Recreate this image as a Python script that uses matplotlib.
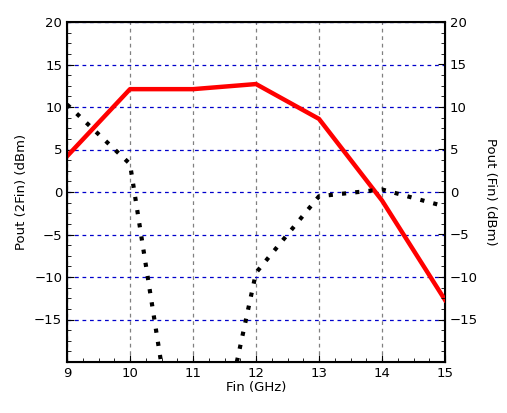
import numpy as np
import matplotlib
matplotlib.use("Agg")
import matplotlib.pyplot as plt
from matplotlib.ticker import AutoMinorLocator

fin = [9, 10, 11, 12, 13, 14, 15]
pout_2fin = [4.2, 12.1, 12.1, 12.7, 8.6, -1.0, -12.7]
pout_fin = [10.3, 3.3, -44.0, -9.5, -0.5, 0.3, -1.7]
yticks = [-15, -10, -5, 0, 5, 10, 15, 20]

fig = plt.figure(figsize=(5.07, 4.13), dpi=100)
ax = fig.add_axes([67 / 507, 51 / 413, 378 / 507, 340 / 413])
ax2 = ax.twinx()

ax.plot(fin, pout_2fin, color="#ff0000", lw=3.2, zorder=3)
ax2.plot(fin, pout_fin, color="black", lw=3, ls=(0, (1, 2.2)), zorder=3)

for a in (ax, ax2):
    a.set_xlim(9, 15)
    a.set_ylim(-20, 20)
    a.set_yticks(yticks)
    a.yaxis.set_minor_locator(AutoMinorLocator(4))
    a.tick_params(labelsize=9.5, direction="in", length=5)
    a.tick_params(which="minor", direction="in", length=3)
ax.xaxis.set_minor_locator(AutoMinorLocator(4))
ax.grid(axis="y", color="#0000cc", ls=(0, (3, 3)), lw=0.9)
ax.grid(axis="x", color="gray", ls=(0, (3, 3)), lw=0.9)
for s in ax.spines.values():
    s.set_linewidth(1.5)

ax.set_xlabel("Fin (GHz)", fontsize=9.5, labelpad=1)
ax.set_ylabel("Pout (2Fin) (dBm)", fontsize=9.5)
ax2.set_ylabel("Pout (Fin) (dBm)", fontsize=9.5, rotation=270, labelpad=14)

fig.savefig("out.png")
